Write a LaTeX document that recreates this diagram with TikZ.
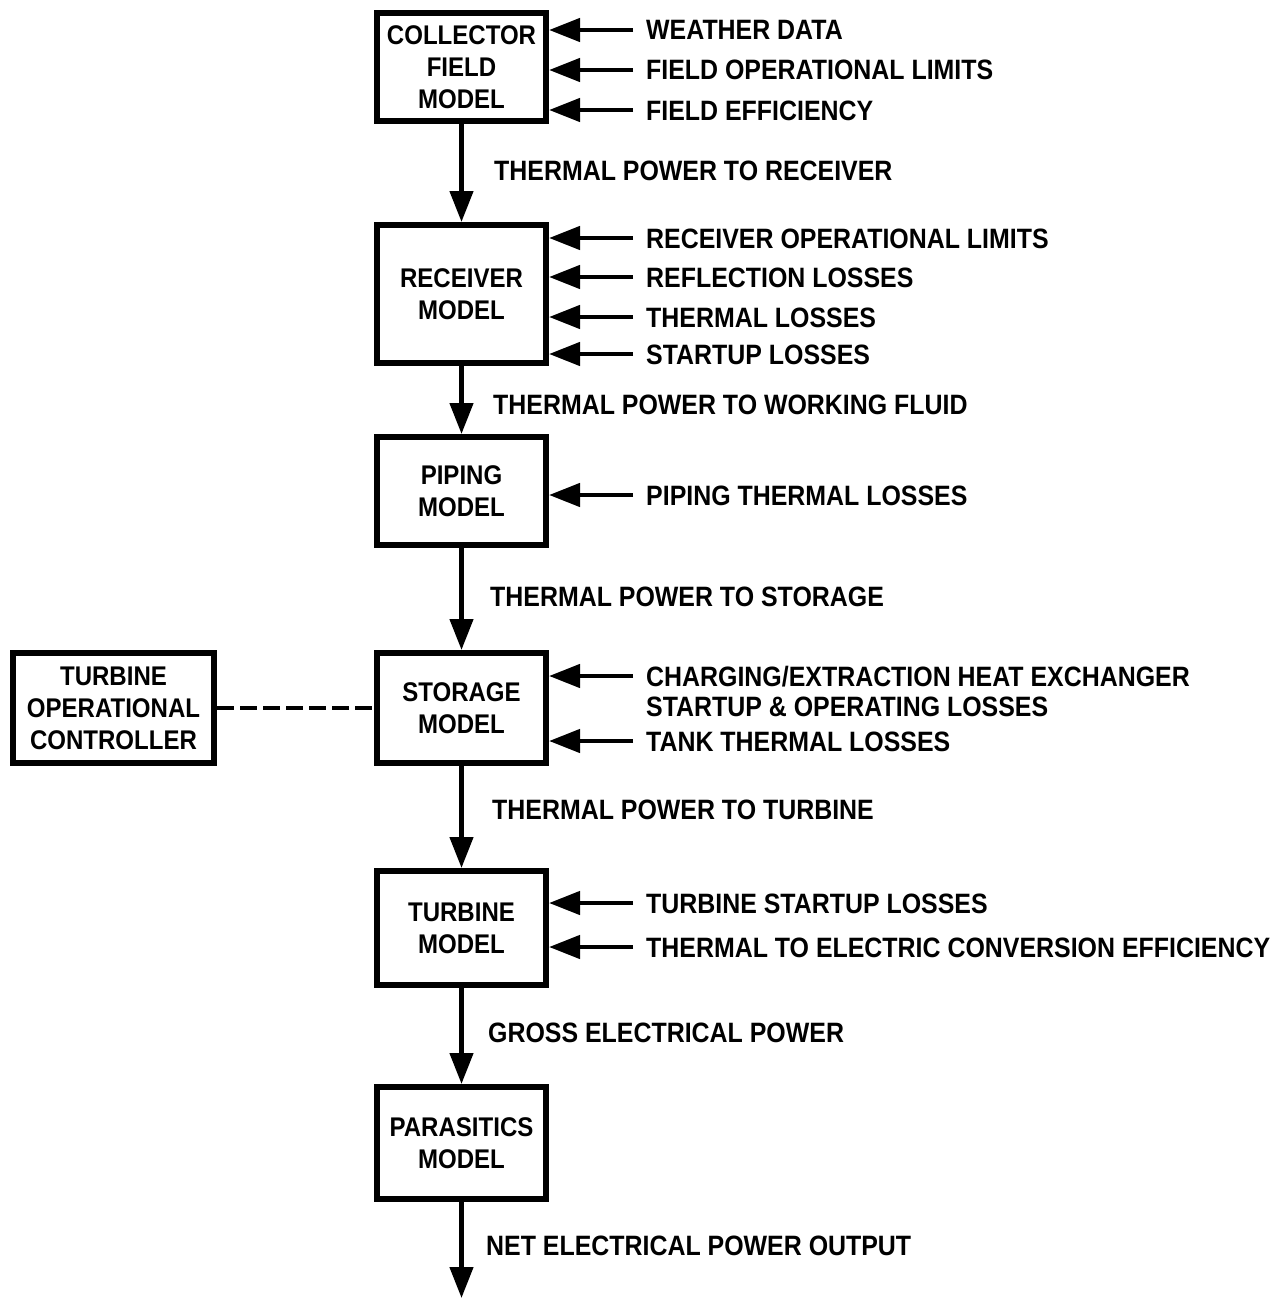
\documentclass[tikz,border=0pt]{standalone}
\usepackage{fontspec}
\setmainfont{Liberation Sans}[FakeStretch=0.89]
\usetikzlibrary{arrows.meta}
\begin{document}
\begin{tikzpicture}[x=1pt,y=-1pt,
  box/.style={draw, line width=6pt, minimum width=169pt, align=center,
    font=\fontsize{27}{32}\selectfont\bfseries, inner sep=0pt},
  arr/.style={line width=4.5pt, -{Triangle[length=31pt,width=23pt]}},
  lab/.style={anchor=base west, inner sep=0pt, font=\fontsize{28}{32}\selectfont\bfseries},
  ctl/.style={line width=3.5pt, dash pattern=on 17pt off 6pt}]
\useasboundingbox (0,0) rectangle (1284,1298);
% boxes
\node[box, minimum height=108pt] (coll) at (461.5,67) {COLLECTOR\\FIELD\\MODEL};
\node[box, minimum height=138pt] (recv) at (461.5,294) {RECEIVER\\MODEL};
\node[box, minimum height=108pt] (pipe) at (461.5,491) {PIPING\\MODEL};
\node[box, minimum height=110pt] (stor) at (461.5,708) {STORAGE\\MODEL};
\node[box, minimum height=110pt, minimum width=201pt] (toc) at (113.5,708) {TURBINE\\OPERATIONAL\\CONTROLLER};
\node[box, minimum height=114pt] (turb) at (461.5,928) {TURBINE\\MODEL};
\node[box, minimum height=112pt] (para) at (461.5,1143) {PARASITICS\\MODEL};
% main flow
\draw[arr] (coll.south) -- (recv.north);
\draw[arr] (recv.south) -- (pipe.north);
\draw[arr] (pipe.south) -- (stor.north);
\draw[arr] (stor.south) -- (turb.north);
\draw[arr] (turb.south) -- (para.north);
\coordinate (out) at (461.5,1298);
\draw[arr] (para.south) -- (out);
\draw[ctl] (toc.east) -- (stor.west);
% flow labels
\node[lab] (l1) at (494,180) {THERMAL POWER TO RECEIVER};
\node[lab] (l2) at (493,414) {THERMAL POWER TO WORKING FLUID};
\node[lab] (l3) at (490,606) {THERMAL POWER TO STORAGE};
\node[lab] (l4) at (492,819) {THERMAL POWER TO TURBINE};
\node[lab] (l5) at (488,1042) {GROSS ELECTRICAL POWER};
\node[lab] (l6) at (486,1255) {NET ELECTRICAL POWER OUTPUT};
% inputs
\foreach \n/\y/\b/\t in {a/30/coll/WEATHER DATA, b/70/coll/FIELD OPERATIONAL LIMITS, c/110/coll/FIELD EFFICIENCY,
  d/238/recv/RECEIVER OPERATIONAL LIMITS, e/277/recv/REFLECTION LOSSES, f/317/recv/THERMAL LOSSES, g/354/recv/STARTUP LOSSES,
  h/495/pipe/PIPING THERMAL LOSSES, j/741/stor/TANK THERMAL LOSSES,
  k/903/turb/TURBINE STARTUP LOSSES, m/947/turb/THERMAL TO ELECTRIC CONVERSION EFFICIENCY}{
  \coordinate (in\n) at (633,\y);
  \draw[arr] (in\n) -- (in\n -| \b.east);
  \node[lab] (t\n) at (646,\y+10) {\t};
}
\coordinate (ini) at (633,676);
\draw[arr] (ini) -- (ini -| stor.east);
\node[lab] (ti) at (646,686) {CHARGING/EXTRACTION HEAT EXCHANGER};
\node[lab] (ti2) at (646,716) {STARTUP \& OPERATING LOSSES};
\end{tikzpicture}
\end{document}
